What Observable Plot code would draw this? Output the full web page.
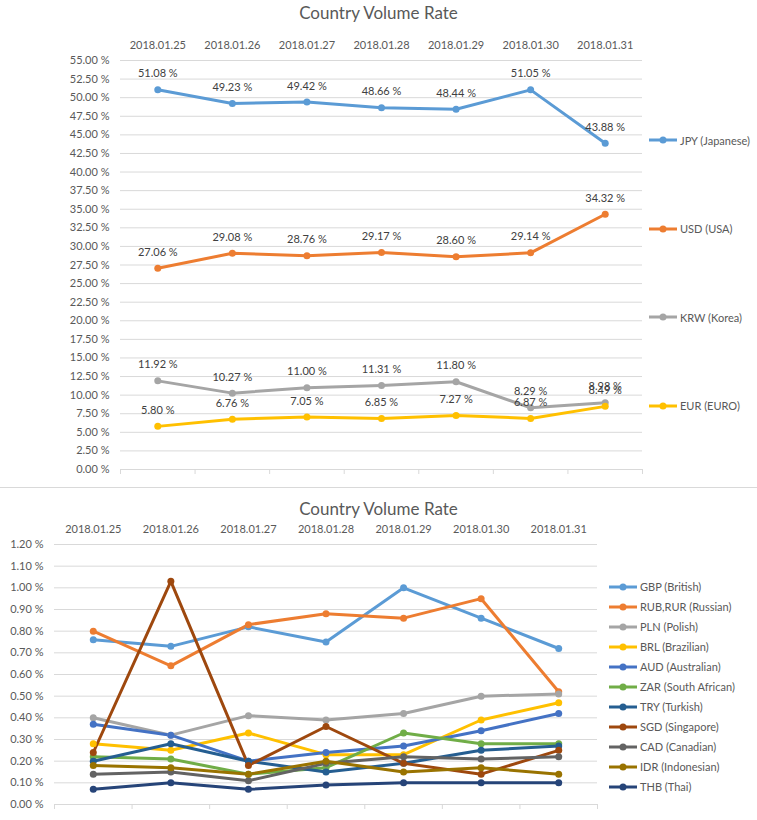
<!DOCTYPE html>
<html>
<head>
<meta charset="utf-8">
<script src="https://cdn.jsdelivr.net/npm/d3@7"></script>
<script src="https://cdn.jsdelivr.net/npm/@observablehq/plot@0.6"></script>
<style>
  html, body { margin: 0; padding: 0; background: #fff; }
  body { width: 757px; height: 820px; position: relative; overflow: hidden; font-family: Lato, "Open Sans", sans-serif; }
  .title { position: absolute; left: 0; width: 757px; text-align: center; font-size: 17px; color: #595959; line-height: 20px; }
  .chart { position: absolute; left: 0; }
  .legend { position: absolute; font-size: 11px; color: #595959; }
  .legend .item { display: flex; align-items: center; white-space: nowrap; }
  .legend svg { display: block; margin-right: 3px; }
  .sep { position: absolute; left: 0; width: 757px; top: 487px; height: 1px; background: #D9D9D9; }
</style>
</head>
<body>
<div class="title" style="top:3px">Country Volume Rate</div>
<div id="top" class="chart" style="top:0"></div>
<div id="legendTop" class="legend" style="left:649px; top:95.75px"></div>
<div class="sep"></div>
<div class="title" style="top:499px">Country Volume Rate</div>
<div id="bottom" class="chart" style="top:490px"></div>
<div id="legendBottom" class="legend" style="left:609px; top:576.5px"></div>
<script>
// ---- data ----
const dates = ["2018.01.25", "2018.01.26", "2018.01.27", "2018.01.28", "2018.01.29", "2018.01.30", "2018.01.31"];

// top chart (percent)
const topSeries = ["JPY (Japanese)", "USD (USA)", "KRW (Korea)", "EUR (EURO)"];
const topColors = ["#5B9BD5", "#ED7D31", "#A5A5A5", "#FFC000"];
const jpy = [51.08, 49.23, 49.42, 48.66, 48.44, 51.05, 43.88];
const usd = [27.06, 29.08, 28.76, 29.17, 28.60, 29.14, 34.32];
const krw = [11.92, 10.27, 11.00, 11.31, 11.80, 8.29, 8.98];
const eur = [5.80, 6.76, 7.05, 6.85, 7.27, 6.87, 8.49];
const topTicks = [0, 2.5, 5, 7.5, 10, 12.5, 15, 17.5, 20, 22.5, 25, 27.5, 30, 32.5, 35, 37.5, 40, 42.5, 45, 47.5, 50, 52.5, 55];

// bottom chart (percent)
const bottomSeries = ["GBP (British)", "RUB,RUR (Russian)", "PLN (Polish)", "BRL (Brazilian)", "AUD (Australian)", "ZAR (South African)", "TRY (Turkish)", "SGD (Singapore)", "CAD (Canadian)", "IDR (Indonesian)", "THB (Thai)"];
const bottomColors = ["#5B9BD5", "#ED7D31", "#A5A5A5", "#FFC000", "#4472C4", "#70AD47", "#255E91", "#9E480E", "#636363", "#997300", "#264478"];
const gbp = [0.76, 0.73, 0.82, 0.75, 1.00, 0.86, 0.72];
const rub = [0.80, 0.64, 0.83, 0.88, 0.86, 0.95, 0.52];
const pln = [0.40, 0.32, 0.41, 0.39, 0.42, 0.50, 0.51];
const brl = [0.28, 0.25, 0.33, 0.23, 0.23, 0.39, 0.47];
const aud = [0.37, 0.32, 0.20, 0.24, 0.27, 0.34, 0.42];
const zar = [0.22, 0.21, 0.14, 0.17, 0.33, 0.28, 0.28];
const tryV = [0.20, 0.28, 0.20, 0.15, 0.19, 0.25, 0.27];
const sgd = [0.24, 1.03, 0.18, 0.36, 0.19, 0.14, 0.25];
const cad = [0.14, 0.15, 0.11, 0.19, 0.22, 0.21, 0.22];
const idr = [0.18, 0.17, 0.14, 0.20, 0.15, 0.17, 0.14];
const thb = [0.07, 0.10, 0.07, 0.09, 0.10, 0.10, 0.10];
const bottomTicks = [0, 0.1, 0.2, 0.3, 0.4, 0.5, 0.6, 0.7, 0.8, 0.9, 1.0, 1.1, 1.2];

// ---- build ----
const topValues = [jpy, usd, krw, eur];
const bottomValues = [gbp, rub, pln, brl, aud, zar, tryV, sgd, cad, idr, thb];
const toRows = (names, vals) => names.flatMap((s, k) => vals[k].map((v, i) => ({series: s, i, v})));
const topRows = toRows(topSeries, topValues);
const bottomRows = toRows(bottomSeries, bottomValues);
const idx = dates.map((d, i) => i);
const bounds = d3.range(-0.5, dates.length, 1);

function chart({rows, names, colors, ticks, width, height, margins, labels}) {
  const marks = [
    Plot.gridY({ticks, stroke: "#D9D9D9", strokeOpacity: 1}),
    Plot.axisY({ticks, tickSize: 0, tickPadding: 11, tickFormat: d => d.toFixed(2) + " %", label: null, fill: "#595959"}),
    Plot.axisX({anchor: "top", ticks: idx, tickFormat: i => dates[i], tickSize: 0, tickPadding: 12, label: null, fill: "#595959"}),
    Plot.axisX({anchor: "bottom", ticks: bounds, tickFormat: () => "", tickSize: 5, stroke: "#D9D9D9", strokeOpacity: 1, label: null}),
    Plot.line(rows, {x: "i", y: "v", z: "series", stroke: "series", strokeWidth: 3, strokeLinejoin: "round", strokeLinecap: "round"}),
    Plot.dot(rows, {x: "i", y: "v", fill: "series", r: 3.5})
  ];
  if (labels) marks.push(Plot.text(rows, {x: "i", y: "v", text: d => d.v.toFixed(2) + " %", dy: -16, fill: "#404040", fontSize: 11}));
  return Plot.plot({
    width, height, ...margins,
    style: {fontFamily: "Lato, 'Open Sans', sans-serif", fontSize: "11px", background: "transparent", overflow: "visible"},
    x: {type: "linear", domain: [-0.5, dates.length - 0.5]},
    y: {domain: [ticks[0], ticks[ticks.length - 1]]},
    color: {domain: names, range: colors},
    marks
  });
}

document.getElementById("top").append(chart({
  rows: topRows, names: topSeries, colors: topColors, ticks: topTicks,
  width: 757, height: 487,
  margins: {marginTop: 60, marginBottom: 18, marginLeft: 120, marginRight: 115},
  labels: true
}));
document.getElementById("bottom").append(chart({
  rows: bottomRows, names: bottomSeries, colors: bottomColors, ticks: bottomTicks,
  width: 757, height: 330,
  margins: {marginTop: 54, marginBottom: 16, marginLeft: 54, marginRight: 160},
  labels: false
}));

function legend(el, names, colors, itemH) {
  names.forEach((n, k) => {
    const item = document.createElement("div");
    item.className = "item";
    item.style.height = itemH + "px";
    item.innerHTML = `<svg width="28" height="10"><line x1="0" y1="5" x2="28" y2="5" stroke="${colors[k]}" stroke-width="3"/><circle cx="14" cy="5" r="3.5" fill="${colors[k]}"/></svg><span></span>`;
    item.querySelector("span").textContent = n;
    el.append(item);
  });
}
legend(document.getElementById("legendTop"), topSeries, topColors, 88.5);
legend(document.getElementById("legendBottom"), bottomSeries, bottomColors, 20);
</script>
</body>
</html>
